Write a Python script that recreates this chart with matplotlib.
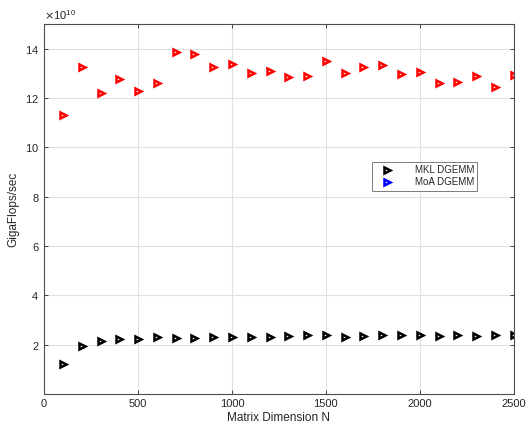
import matplotlib
matplotlib.use('Agg')
import matplotlib.pyplot as plt
from matplotlib.lines import Line2D
import numpy as np

plt.rcParams['font.family'] = ['Liberation Sans', 'DejaVu Sans']

# matrix dimension N
N = [100, 200, 300, 400, 500, 600, 700, 800, 900, 1000, 1100, 1200, 1300,
     1400, 1500, 1600, 1700, 1800, 1900, 2000, 2100, 2200, 2300, 2400, 2500]

# flops/sec, in units of 1e10
mkl = [1.21, 1.94, 2.14, 2.21, 2.25, 2.32, 2.29, 2.29, 2.33, 2.33, 2.33, 2.32, 2.36,
       2.38, 2.41, 2.33, 2.37, 2.40, 2.40, 2.40, 2.37, 2.41, 2.37, 2.38, 2.41]
moa = [11.31, 13.25, 12.20, 12.75, 12.30, 12.60, 13.87, 13.77, 13.25, 13.39, 13.01, 13.09, 12.86,
       12.88, 13.48, 13.02, 13.25, 13.33, 12.97, 13.04, 12.62, 12.65, 12.90, 12.44, 12.93]

xticks = [0, 500, 1000, 1500, 2000, 2500]
yticks = [2, 4, 6, 8, 10, 12, 14]

fig = plt.figure(figsize=(5.29, 4.26), dpi=100)
ax = fig.add_axes([0.0835, 0.0751, 0.8875, 0.8686])

mk = dict(linestyle='none', marker='>', markersize=4.6, markerfacecolor='none',
          markeredgewidth=1.8)
ax.plot(N, np.array(mkl) * 1e10, markeredgecolor='k', **mk)
ax.plot(N, np.array(moa) * 1e10, markeredgecolor='r', **mk)

ax.set_xlim(0, 2500)
ax.set_ylim(0, 1.5e11)
ax.set_xticks(xticks)
ax.set_yticks(np.array(yticks) * 1e10)
ax.ticklabel_format(axis='y', style='sci', scilimits=(10, 10), useMathText=True)
ax.yaxis.get_offset_text().set_fontsize(8)
ax.yaxis.get_offset_text().set_color('0.15')

ax.grid(True, color='0.88', linewidth=0.8)
ax.set_axisbelow(True)
for s in ax.spines.values():
    s.set_color('0.3')
    s.set_linewidth(0.8)
ax.tick_params(direction='in', top=True, right=True, labelsize=8, colors='0.15',
               length=3, width=0.6)

ax.set_xlabel('Matrix Dimension N', fontsize=8.5, color='0.15', labelpad=2)
ax.set_ylabel('GigaFlops/sec', fontsize=8.5, color='0.15', labelpad=4)

handles = [
    Line2D([], [], markeredgecolor='k', **mk),
    Line2D([], [], markeredgecolor='b', **mk),
]
leg = ax.legend(handles, ['MKL DGEMM', 'MoA DGEMM'], loc='upper left',
                bbox_to_anchor=(0.699, 0.627), fontsize=7, frameon=True, fancybox=False,
                edgecolor='0.4', framealpha=1, borderpad=0.35, labelspacing=0.2,
                handletextpad=1.6, handlelength=2.4, borderaxespad=0)
leg.get_frame().set_linewidth(0.6)
for t in leg.get_texts():
    t.set_color('0.15')

fig.savefig('out.png', dpi=100)
